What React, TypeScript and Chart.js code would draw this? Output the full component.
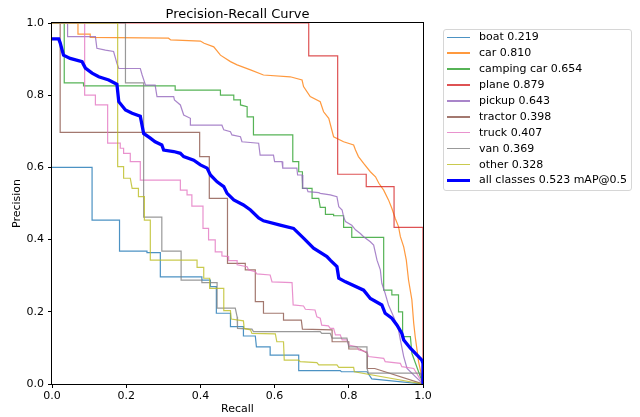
import React, { useEffect, useRef } from "react";
import { Chart, registerables } from "chart.js";

Chart.register(...registerables);

type Pt = [number, number];

const TITLE = "Precision-Recall Curve";
const X_LABEL = "Recall";
const Y_LABEL = "Precision";
const TICK_VALUES = [0, 0.2, 0.4, 0.6, 0.8, 1.0];

const classNames = ["boat", "car", "camping car", "plane", "pickup", "tractor", "truck", "van", "other"];
const classAP = [0.219, 0.81, 0.654, 0.879, 0.643, 0.398, 0.407, 0.369, 0.328];
const classColors = ["#1f77b4", "#ff7f0e", "#2ca02c", "#d62728", "#9467bd", "#8c564b", "#e377c2", "#7f7f7f", "#bcbd22"];
const allLabel = "all classes 0.523 mAP@0.5";
const allColor = "#0000ff";

// [recall, precision] vertices
const boat: Pt[] = [[0, .6], [.108, .6], [.108, .454], [.182, .454], [.182, .368], [.256, .368], [.256, .364], [.292, .364], [.292, .297], [.404, .297], [.404, .288], [.427, .288], [.427, .27], [.443, .27], [.443, .196], [.481, .196], [.481, .159], [.516, .159], [.516, .133], [.548, .133], [.551, .103], [.588, .103], [.588, .08], [.665, .08], [.665, .037], [.777, .037], [.78, .034], [.849, .034], [.862, .014], [1, 0]];
const car: Pt[] = [[0, 1], [.07, 1], [.07, .969], [.103, .969], [.103, .96], [.314, .958], [.32, .953], [.4, .95], [.41, .944], [.436, .934], [.454, .911], [.481, .893], [.499, .884], [.535, .87], [.57, .856], [.642, .851], [.674, .842], [.678, .824], [.696, .796], [.723, .782], [.732, .754], [.746, .736], [.759, .685], [.786, .671], [.813, .662], [.818, .648], [.826, .63], [.84, .611], [.858, .588], [.872, .574], [.881, .556], [.894, .537], [.907, .51], [.916, .487], [.925, .459], [.934, .436], [.939, .408], [.948, .38], [.955, .343], [.961, .288], [.97, .233], [.975, .168], [.979, .131], [.984, .094], [.988, .062], [.997, .02], [1, 0]];
const campingCar: Pt[] = [[0, 1], [.033, 1], [.033, .834], [.085, .834], [.085, .826], [.332, .826], [.332, .814], [.454, .814], [.454, .8], [.49, .8], [.49, .787], [.508, .787], [.508, .773], [.526, .768], [.526, .74], [.543, .74], [.543, .69], [.649, .69], [.649, .616], [.665, .616], [.665, .588], [.675, .588], [.675, .542], [.701, .542], [.701, .514], [.719, .514], [.723, .489], [.737, .489], [.737, .47], [.759, .47], [.759, .466], [.786, .466], [.786, .434], [.808, .434], [.808, .406], [.894, .406], [.894, .26], [.916, .26], [.916, .247], [.934, .247], [.934, .2], [.945, .2], [.945, .131], [.966, .131], [.97, .085], [1, 0]];
const plane: Pt[] = [[0, 1], [.692, 1], [.692, .909], [.77, .909], [.77, .581], [.847, .581], [.847, .547], [.922, .547], [.922, .434], [1, .434], [1, 0]];
const pickup: Pt[] = [[0, 1], [.042, 1], [.042, .962], [.117, .962], [.121, .93], [.144, .925], [.166, .921], [.175, .888], [.18, .874], [.238, .874], [.243, .856], [.252, .828], [.278, .828], [.283, .796], [.328, .796], [.33, .787], [.346, .773], [.355, .745], [.373, .736], [.373, .717], [.458, .717], [.463, .704], [.481, .699], [.485, .69], [.508, .685], [.512, .671], [.557, .667], [.561, .634], [.597, .634], [.6, .616], [.62, .616], [.622, .598], [.66, .598], [.662, .579], [.674, .579], [.676, .542], [.687, .542], [.69, .533], [.719, .53], [.723, .528], [.75, .524], [.768, .519], [.773, .491], [.782, .482], [.786, .463], [.791, .45], [.808, .44], [.818, .427], [.831, .417], [.84, .408], [.858, .394], [.867, .385], [.872, .362], [.876, .343], [.885, .316], [.889, .279], [.898, .251], [.907, .219], [.921, .186], [.934, .15], [.939, .122], [.948, .076], [.957, .043], [1, 0]];
const tractor: Pt[] = [[0, 1], [.022, 1], [.022, .697], [.398, .697], [.398, .63], [.424, .63], [.424, .514], [.473, .514], [.473, .334], [.521, .334], [.521, .316], [.548, .316], [.548, .228], [.57, .228], [.57, .196], [.624, .196], [.624, .177], [.672, .177], [.675, .152], [.755, .15], [.755, .117], [.8, .117], [.8, .097], [.83, .097], [.85, .085], [.85, .043], [.87, .043], [1, 0]];
const truck: Pt[] = [[0, 1], [.088, 1], [.088, .8], [.117, .8], [.117, .773], [.15, .773], [.15, .667], [.184, .667], [.184, .653], [.193, .653], [.193, .639], [.211, .639], [.211, .616], [.238, .616], [.238, .565], [.346, .565], [.346, .537], [.364, .537], [.364, .524], [.377, .524], [.377, .493], [.407, .493], [.407, .431], [.422, .431], [.422, .399], [.44, .399], [.44, .366], [.458, .366], [.458, .355], [.476, .353], [.476, .342], [.499, .342], [.499, .33], [.526, .325], [.53, .316], [.548, .311], [.552, .305], [.588, .302], [.593, .283], [.647, .281], [.65, .219], [.678, .216], [.683, .207], [.709, .205], [.714, .186], [.723, .182], [.727, .163], [.745, .161], [.75, .154], [.759, .154], [.764, .136], [.777, .136], [.782, .122], [.795, .122], [.8, .108], [.822, .103], [.827, .094], [.849, .089], [.853, .076], [.894, .071], [.898, .062], [.939, .057], [.943, .048], [.975, .043], [1, 0]];
const van: Pt[] = [[0, 1], [.198, 1], [.198, .834], [.247, .834], [.247, .462], [.296, .462], [.296, .368], [.348, .368], [.348, .288], [.404, .288], [.404, .281], [.445, .281], [.445, .21], [.494, .21], [.499, .186], [.5, .154], [.539, .152], [.543, .145], [.723, .145], [.727, .14], [.75, .14], [.755, .127], [.795, .127], [.8, .103], [.849, .103], [.849, .043], [.853, .03], [.993, .03], [1, 0]];
const other: Pt[] = [[0, 1], [.177, 1], [.177, .602], [.193, .602], [.193, .57], [.211, .57], [.216, .542], [.233, .542], [.233, .519], [.249, .519], [.249, .454], [.265, .454], [.265, .343], [.391, .343], [.391, .323], [.409, .323], [.409, .293], [.425, .293], [.425, .265], [.463, .265], [.463, .203], [.481, .203], [.483, .18], [.516, .175], [.518, .154], [.535, .15], [.539, .14], [.602, .139], [.606, .117], [.624, .117], [.626, .066], [.665, .066], [.669, .062], [.714, .059], [.719, .053], [.768, .053], [.773, .046], [.813, .046], [.815, .034], [1, 0]];
const allClasses: Pt[] = [[0, .956], [.018, .956], [.022, .945], [.031, .911], [.049, .902], [.081, .893], [.09, .875], [.108, .861], [.126, .851], [.153, .842], [.175, .83], [.18, .782], [.198, .759], [.216, .75], [.238, .742], [.247, .694], [.265, .681], [.278, .671], [.296, .662], [.301, .648], [.328, .644], [.346, .639], [.355, .63], [.382, .62], [.4, .607], [.418, .598], [.427, .579], [.445, .56], [.463, .547], [.472, .528], [.49, .51], [.516, .496], [.535, .482], [.557, .46], [.57, .452], [.615, .44], [.651, .431], [.678, .404], [.705, .376], [.741, .353], [.75, .343], [.768, .325], [.773, .293], [.791, .283], [.84, .26], [.858, .237], [.889, .219], [.898, .196], [.916, .182], [.93, .163], [.943, .14], [.948, .122], [.966, .099], [.984, .08], [.997, .066], [1, .057], [1, 0]];

const classSeries = [boat, car, campingCar, plane, pickup, tractor, truck, van, other];

const FONT = "'DejaVu Sans', sans-serif";

function withAlpha(hex: string, a: number) {
  const n = parseInt(hex.slice(1), 16);
  return `rgba(${(n >> 16) & 255},${(n >> 8) & 255},${n & 255},${a})`;
}

const framePlugin = {
  id: "frameAndTitle",
  afterDatasetsDraw(chart: any) {
    const { ctx, chartArea: a } = chart;
    ctx.save();
    ctx.strokeStyle = "#000";
    ctx.lineWidth = 1;
    ctx.strokeRect(a.left - 0.5, a.top - 0.5, a.right - a.left + 1, a.bottom - a.top + 1);
    ctx.fillStyle = "#000";
    ctx.font = `13px ${FONT}`;
    ctx.textAlign = "center";
    ctx.textBaseline = "alphabetic";
    ctx.fillText(TITLE, (a.left + a.right) / 2, 17.5);
    ctx.restore();
  },
};

export default function App() {
  const ref = useRef<HTMLCanvasElement | null>(null);

  useEffect(() => {
    if (!ref.current) return;
    const datasets: any[] = classSeries.map((s, i) => ({
      label: `${classNames[i]} ${classAP[i].toFixed(3)}`,
      data: s.map(([x, y]) => ({ x, y })),
      borderColor: withAlpha(classColors[i], 0.8),
      backgroundColor: classColors[i],
      borderWidth: 1.2,
      pointRadius: 0,
      tension: 0,
      fill: false,
      order: 20 - i,
    }));
    datasets.push({
      label: allLabel,
      data: allClasses.map(([x, y]) => ({ x, y })),
      borderColor: allColor,
      backgroundColor: allColor,
      borderWidth: 3.3,
      pointRadius: 0,
      tension: 0,
      fill: false,
      order: 1,
    });

    const tickFont = { family: FONT, size: 11 };
    const chart = new Chart(ref.current, {
      type: "line",
      data: { datasets },
      options: {
        animation: false,
        responsive: false,
        devicePixelRatio: 1,
        layout: { padding: { top: 23, right: 217, left: 0, bottom: 0 } },
        plugins: { legend: { display: false }, title: { display: false }, tooltip: { enabled: false } },
        scales: {
          x: {
            type: "linear",
            min: 0,
            max: 1,
            afterFit: (s: any) => { s.height = 33; },
            afterBuildTicks: (s: any) => { s.ticks = TICK_VALUES.map((v) => ({ value: v })); },
            ticks: { font: tickFont, color: "#000", padding: 2, maxRotation: 0, callback: (v: any) => Number(v).toFixed(1) },
            grid: { drawOnChartArea: false, drawTicks: true, tickLength: 4, color: "#000", lineWidth: 1 },
            border: { display: false },
            title: { display: true, text: X_LABEL, font: { family: FONT, size: 11 }, color: "#000", padding: { top: 0, bottom: 1.4 } },
          },
          y: {
            type: "linear",
            min: 0,
            max: 1,
            afterFit: (s: any) => { s.width = 52; },
            afterBuildTicks: (s: any) => { s.ticks = TICK_VALUES.map((v) => ({ value: v })); },
            ticks: { font: tickFont, color: "#000", padding: 4, callback: (v: any) => Number(v).toFixed(1) },
            grid: { drawOnChartArea: false, drawTicks: true, tickLength: 4, color: "#000", lineWidth: 1 },
            border: { display: false },
            title: { display: true, text: Y_LABEL, font: { family: FONT, size: 11 }, color: "#000", padding: { top: 10.4, bottom: 0 } },
          },
        },
      } as any,
      plugins: [framePlugin],
    });
    return () => chart.destroy();
  }, []);

  const legendItems = [
    ...classNames.map((n, i) => ({ text: `${n} ${classAP[i].toFixed(3)}`, color: withAlpha(classColors[i], 0.8), w: 1.5 })),
    { text: allLabel, color: allColor, w: 3.3 },
  ];

  return (
    <div style={{ position: "fixed", left: 0, top: 0, width: 640, height: 417, background: "#fff", overflow: "hidden" }}>
      <canvas ref={ref} width={640} height={417} style={{ position: "absolute", left: 0, top: 0, width: 640, height: 417 }} />
      <div style={{ position: "absolute", left: 443, top: 28.5, width: 189, height: 162, border: "1px solid #d6d6d6", borderRadius: 3, boxSizing: "border-box", background: "#fff" }} />
      {legendItems.map((it, i) => (
        <div key={i} style={{ position: "absolute", left: 447, top: 37.3 + 15.9 * i - 8, height: 16, display: "flex", alignItems: "center", whiteSpace: "nowrap" }}>
          <span style={{ display: "inline-block", width: 23, height: it.w, background: it.color }} />
          <span style={{ marginLeft: 9, fontFamily: FONT, fontSize: 11, lineHeight: "16px", color: "#000" }}>{it.text}</span>
        </div>
      ))}
    </div>
  );
}
